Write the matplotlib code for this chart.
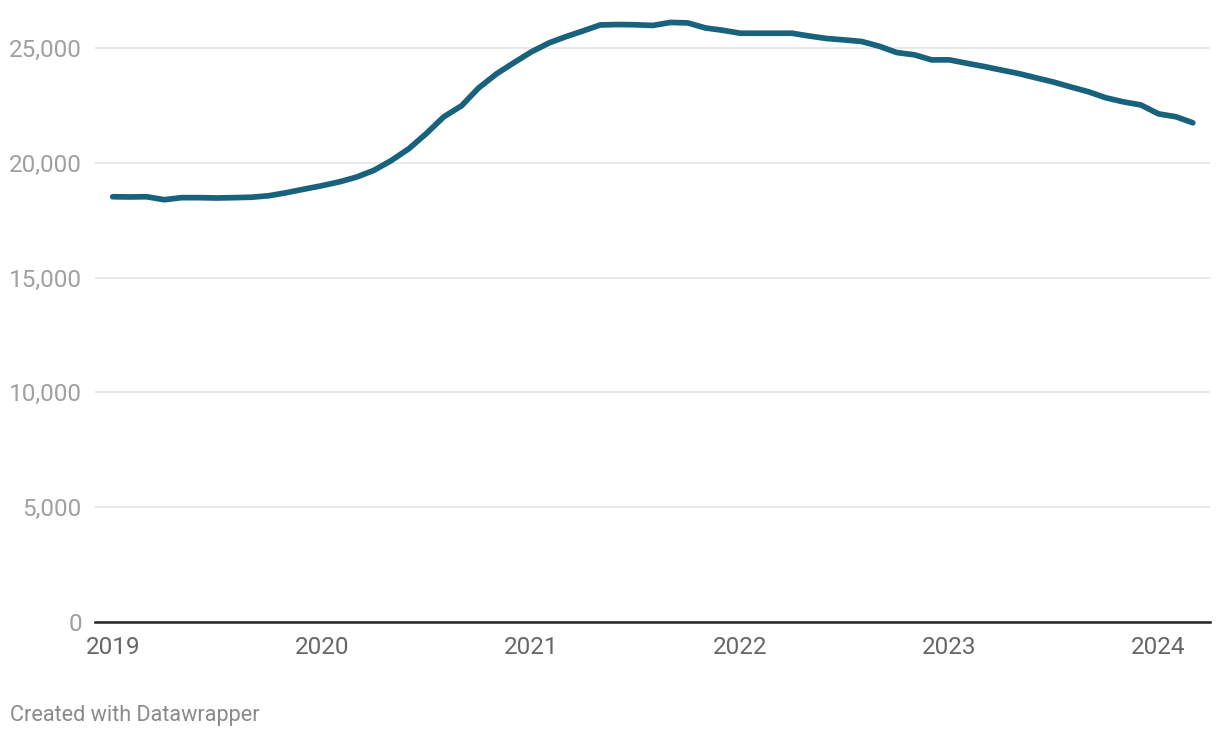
import numpy as np
import pandas as pd
import matplotlib
matplotlib.use("Agg")
import matplotlib.pyplot as plt
import matplotlib.dates as mdates
from matplotlib.ticker import FuncFormatter

plt.rcParams['font.family'] = ['Roboto', 'DejaVu Sans']

# Monthly values, Jan 2019 - Mar 2024
months = pd.date_range("2019-01-01", "2024-03-01", freq="MS")
values = [
    18520, 18510, 18520, 18390, 18480, 18480, 18465, 18480, 18500, 18565, 18700, 18850,
    19000, 19170, 19370, 19670, 20090, 20610, 21260, 22000, 22480, 23260, 23870, 24350,
    24830, 25220, 25480, 25740, 26000, 26020, 26010, 25980, 26110, 26090, 25870, 25770,
    25640, 25640, 25640, 25640, 25520, 25410, 25350, 25280, 25070, 24800, 24700, 24480,
    24480, 24330, 24200, 24040, 23890, 23700, 23520, 23300, 23090, 22830, 22650, 22520,
    22130, 22000, 21740,
]
y_ticks = [0, 5000, 10000, 15000, 20000, 25000]
x_ticks = pd.to_datetime(["2019-01-01", "2020-01-01", "2021-01-01",
                          "2022-01-01", "2023-01-01", "2024-01-01"])

fig = plt.figure(figsize=(12.2, 7.38), dpi=100)
ax = fig.add_axes([95 / 1220, 116 / 738, 1115 / 1220, 608.5 / 738])

ax.plot(months, values, color="#18627d", lw=4.1, solid_capstyle="round",
        solid_joinstyle="round", zorder=3)

ax.set_xlim(pd.Timestamp("2018-12-01"), pd.Timestamp("2024-03-31"))
ax.set_ylim(0, 26500)

ax.set_yticks(y_ticks)
ax.yaxis.set_major_formatter(FuncFormatter(lambda v, p: f"{int(v):,}"))
ax.grid(axis="y", color="#e3e3e3", lw=1.1, zorder=0)
ax.set_xticks(x_ticks)
ax.xaxis.set_major_formatter(mdates.DateFormatter("%Y"))

for s in ["top", "right", "left"]:
    ax.spines[s].set_visible(False)
ax.spines["bottom"].set_color("#222222")
ax.spines["bottom"].set_linewidth(1.8)
ax.spines["bottom"].set_zorder(4)

ax.tick_params(axis="y", length=0, pad=9.5, labelsize=17.5, labelcolor="#a0a0a0")
ax.tick_params(axis="x", length=0, pad=10, labelsize=17.5, labelcolor="#666666")

fig.text(10 / 1220, 1 - 715 / 738, "Created with Datawrapper", fontsize=15.6,
         color="#8a8a8a", va="center", ha="left")

fig.savefig("out.png", dpi=100)
